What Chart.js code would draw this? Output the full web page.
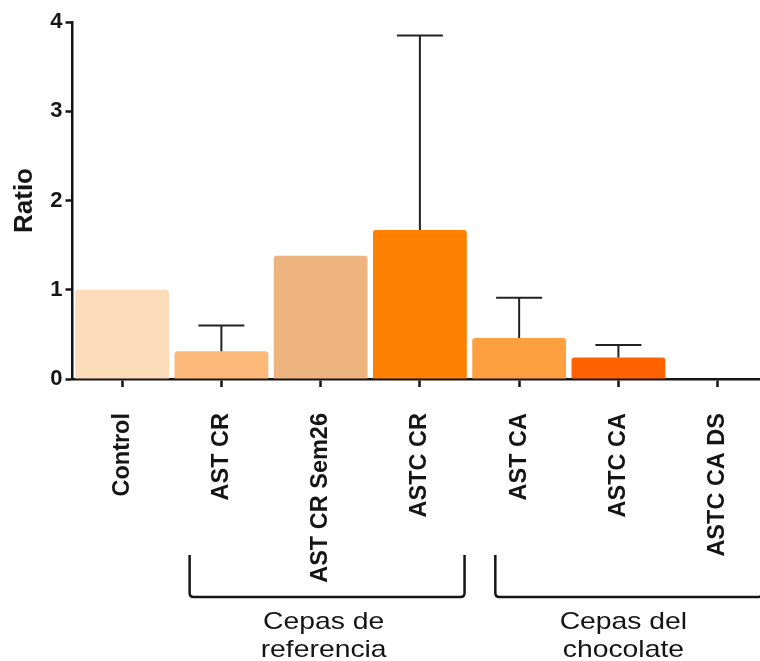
<!DOCTYPE html>
<html><head><meta charset="utf-8">
<script src="https://cdn.jsdelivr.net/npm/chart.js@4/dist/chart.umd.min.js"></script>
<style>
html,body{margin:0;padding:0;background:#fff;overflow:hidden;width:760px;height:661px}
#wrap{position:relative;width:772px;height:661px}
</style></head><body>
<div id="wrap"><canvas id="c" width="772" height="661"></canvas></div>
<script>
// Strains and their expression ratios (mean and upper error limit)
const categories = ['Control', 'AST CR', 'AST CR Sem26', 'ASTC CR', 'AST CA', 'ASTC CA', 'ASTC CA DS'];
const ratioMeans = [1.00, 0.31, 1.38, 1.67, 0.46, 0.24, 0];
const ratioUpper = [null, 0.60, null, 3.85, 0.91, 0.38, null];
const barColors = ['#FDDCB9', '#FDB97A', '#EEB47F', '#FF8000', '#FFA040', '#FF6200', '#FF6200'];
const yTicks = [0, 1, 2, 3, 4];
const groupLabels = [['Cepas de', 'referencia'], ['Cepas del', 'chocolate']];
const groupFrom = [1, 4];
const groupTo = [3, 6];

const INK = '#151515';
const FONT = '"Liberation Sans", Arial, sans-serif';

const errorBars = {
  id: 'errorBars',
  afterDatasetsDraw(chart) {
    const meta = chart.getDatasetMeta(0);
    const y = chart.scales.y;
    const ctx = chart.ctx;
    ctx.save();
    ctx.strokeStyle = '#222';
    ctx.lineWidth = 2;
    ratioUpper.forEach((top, i) => {
      if (top == null) return;
      const x = meta.data[i].x;
      const y0 = y.getPixelForValue(ratioMeans[i]);
      const y1 = y.getPixelForValue(top);
      ctx.beginPath();
      ctx.moveTo(x, y0);
      ctx.lineTo(x, y1);
      ctx.moveTo(x - 23, y1);
      ctx.lineTo(x + 23, y1);
      ctx.stroke();
    });
    ctx.restore();
  }
};

// Brackets under the tick labels that group the strains
const groupBrackets = {
  id: 'groupBrackets',
  afterDraw(chart) {
    const xs = chart.scales.x;
    const ctx = chart.ctx;
    const step = xs.getPixelForValue(1) - xs.getPixelForValue(0);
    const leftInset = [0.32, 0.24];
    const rightInset = [0.45, 0.45];
    const textShift = [3, 5];
    const topY = 555, botY = 597, r = 4;
    ctx.save();
    ctx.strokeStyle = INK;
    ctx.lineWidth = 2.5;
    groupLabels.forEach((lines, g) => {
      const left = xs.getPixelForValue(groupFrom[g]) - leftInset[g] * step;
      const right = xs.getPixelForValue(groupTo[g]) + rightInset[g] * step;
      ctx.beginPath();
      ctx.moveTo(left, topY);
      ctx.lineTo(left, botY - r);
      ctx.quadraticCurveTo(left, botY, left + r, botY);
      ctx.lineTo(right - r, botY);
      ctx.quadraticCurveTo(right, botY, right, botY - r);
      ctx.lineTo(right, topY);
      ctx.stroke();
      const cx = xs.getPixelForValue((groupFrom[g] + groupTo[g]) / 2) + textShift[g];
      ctx.fillStyle = INK;
      ctx.font = '24px ' + FONT;
      ctx.textAlign = 'center';
      ctx.textBaseline = 'alphabetic';
      lines.forEach((t, k) => {
        ctx.save();
        ctx.translate(cx, 629 + k * 28);
        ctx.scale(1.18, 1);
        ctx.fillText(t, 0, 0);
        ctx.restore();
      });
    });
    ctx.restore();
  }
};

new Chart(document.getElementById('c'), {
  type: 'bar',
  data: {
    labels: categories,
    datasets: [{
      data: ratioMeans,
      backgroundColor: barColors,
      borderWidth: 0,
      borderRadius: 3,
      borderSkipped: 'bottom',
      barPercentage: 0.945,
      categoryPercentage: 1
    }]
  },
  options: {
    responsive: false,
    animation: false,
    layout: { padding: { top: 22, right: 2, left: 1.5, bottom: 0 } },
    plugins: { legend: { display: false }, tooltip: { enabled: false } },
    scales: {
      x: {
        afterFit(s) { s.height = 282; },
        border: { display: true, color: INK, width: 2.5 },
        grid: { display: true, offset: false, drawOnChartArea: false, drawTicks: true, tickLength: 8, tickWidth: 2.5, tickColor: INK },
        ticks: {
          color: INK, padding: 26, minRotation: 90, maxRotation: 90, autoSkip: false,
          font: { family: FONT, size: 23.5, weight: 'bold' }
        }
      },
      y: {
        min: 0, max: 4,
        afterFit(s) { s.width = 71; },
        afterBuildTicks(s) { s.ticks = yTicks.map(v => ({ value: v })); },
        border: { display: true, color: INK, width: 2.5 },
        grid: { display: true, drawOnChartArea: false, drawTicks: true, tickLength: 7, tickWidth: 2.5, tickColor: INK },
        ticks: {
          color: INK, padding: 3,
          font: { family: FONT, size: 22, weight: 'bold' }
        },
        title: {
          display: true, text: 'Ratio', color: INK,
          padding: { top: 7.5, bottom: 0 },
          font: { family: FONT, size: 26, weight: 'bold' }
        }
      }
    }
  },
  plugins: [errorBars, groupBrackets]
});
</script>
</body></html>
